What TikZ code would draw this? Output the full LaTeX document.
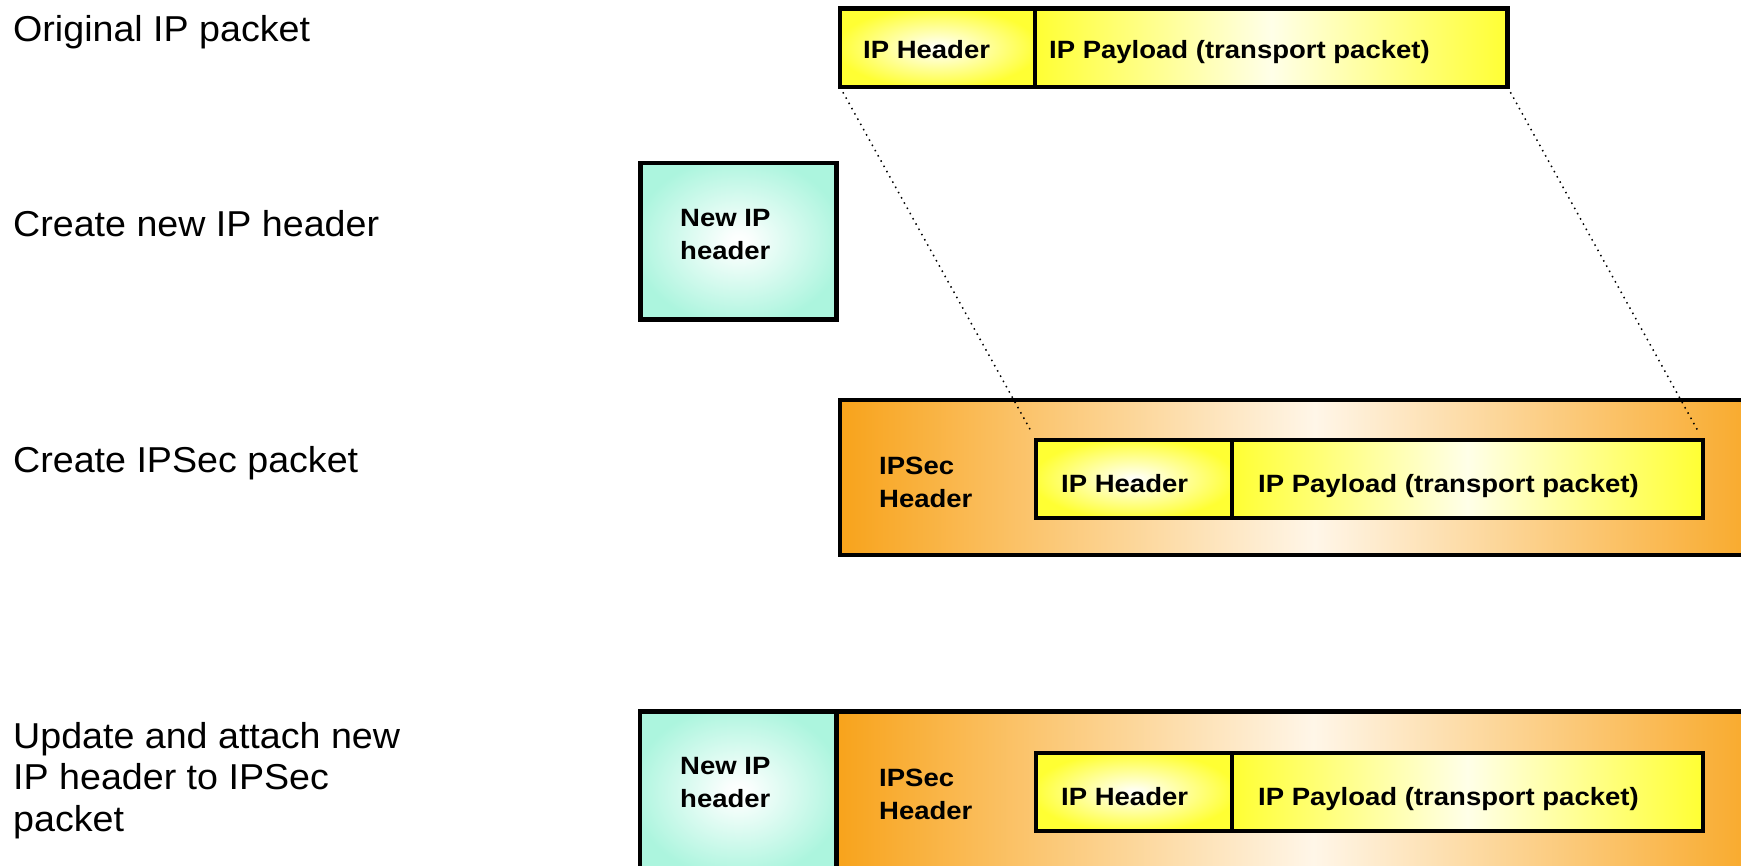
\documentclass[tikz,border=0pt]{standalone}
\usepackage{fontspec}
\setmainfont{Liberation Sans}
\newfontfamily\lblfont[FakeStretch=1.045]{Liberation Sans}
\newfontfamily\bxfont[FakeStretch=1.1]{Liberation Sans}
\definecolor{ylw}{RGB}{255,255,51}
\definecolor{ylwmid}{RGB}{255,255,232}
\definecolor{org}{RGB}{248,163,27}
\definecolor{orgmid}{RGB}{255,246,232}
\definecolor{tealc}{RGB}{172,245,222}
\pgfdeclareradialshading{tealrad}{\pgfpoint{0bp}{0bp}}{color(0bp)=(white); color(3bp)=(white!94!tealc); color(27bp)=(tealc); color(50bp)=(tealc)}
\pgfdeclareradialshading{ylwrad}{\pgfpoint{0bp}{0bp}}{color(0bp)=(white); color(3bp)=(ylwmid); color(26bp)=(ylw); color(50bp)=(ylw)}
\pgfdeclarehorizontalshading{ylwlin}{100bp}{color(0bp)=(ylw); color(25bp)=(ylw); color(50bp)=(ylwmid); color(75bp)=(ylw); color(100bp)=(ylw)}
\pgfdeclarehorizontalshading{orglin}{100bp}{color(0bp)=(org); color(25bp)=(org); color(50bp)=(orgmid); color(75bp)=(org); color(100bp)=(org)}
\tikzset{
  pbox/.style={draw=black, line width=4.5pt, inner sep=0pt, outer sep=0pt, anchor=north west},
  hbox/.style={pbox, shading=ylwrad},
  ybox/.style={pbox, shading=ylwlin},
  obox/.style={pbox, shading=orglin},
  tbox/.style={pbox, shading=tealrad},
  lbl/.style={anchor=north west, inner sep=0pt, align=left, font=\lblfont\fontsize{36}{41.5}\selectfont},
  btxt/.style={anchor=north west, inner sep=0pt, align=left, font=\bxfont\bfseries\fontsize{25}{33}\selectfont},
  dotline/.style={line width=1.5pt, dash pattern=on 1.5pt off 4.5pt, shorten >=8pt}
}
\begin{document}
\begin{tikzpicture}[x=1pt,y=-1pt]
\useasboundingbox (0,0) rectangle (1741,866);
\clip (0,0) rectangle (1741,866);
\fill[white] (0,0) rectangle (1741,866);

% left labels
\node[lbl] (l1) at (13,15) {Original IP packet};
\node[lbl] (l2) at (13,210) {Create new IP header};
\node[lbl] (l3) at (13,446) {Create IPSec packet};
\node[lbl] (l4) at (13,722) {Update and attach new\\IP header to IPSec\\packet};

% row 1: original packet
\node[hbox, minimum width=195pt, minimum height=78.5pt] (ohdr) at (840,8.5) {};
\node[ybox, minimum width=472.5pt, minimum height=78.5pt] (opay) at (1035,8.5) {};
\node[btxt] (tohdr) at (863,40) {IP Header};
\node[btxt] (topay) at (1049,40) {IP Payload (transport packet)};

% row 2: new IP header
\node[tbox, minimum width=196pt, minimum height=156.5pt] (teal1) at (640.5,163) {};
\node[btxt] (tteal1) at (680,209) {New IP\\header};

% row 3: IPSec packet
\node[obox, minimum width=950pt, minimum height=155pt] (ipsec3) at (840,400) {};
\node[hbox, minimum width=196pt, minimum height=78pt] (ihdr3) at (1036,440) {};
\node[ybox, minimum width=471pt, minimum height=78pt] (ipay3) at (1232,440) {};
\node[btxt] (tipsec3) at (879,457) {IPSec\\Header};
\node[btxt] (tihdr3) at (1061,474) {IP Header};
\node[btxt] (tipay3) at (1258,474) {IP Payload (transport packet)};

% row 4: final packet
\node[tbox, minimum width=196.5pt, minimum height=160pt] (teal4) at (640,711.5) {};
\node[obox, minimum width=953.5pt, minimum height=160pt] (ipsec4) at (836.5,711.5) {};
\node[hbox, minimum width=196pt, minimum height=78pt] (ihdr4) at (1036,753) {};
\node[ybox, minimum width=471pt, minimum height=78pt] (ipay4) at (1232,753) {};
\node[btxt] (tteal4) at (680,757) {New IP\\header};
\node[btxt] (tipsec4) at (879,769) {IPSec\\Header};
\node[btxt] (tihdr4) at (1061,787) {IP Header};
\node[btxt] (tipay4) at (1258,787) {IP Payload (transport packet)};

% dotted guides
\draw[dotline] (ohdr.south west) -- (ihdr3.north west);
\draw[dotline] (opay.south east) -- (ipay3.north east);
\end{tikzpicture}
\end{document}
